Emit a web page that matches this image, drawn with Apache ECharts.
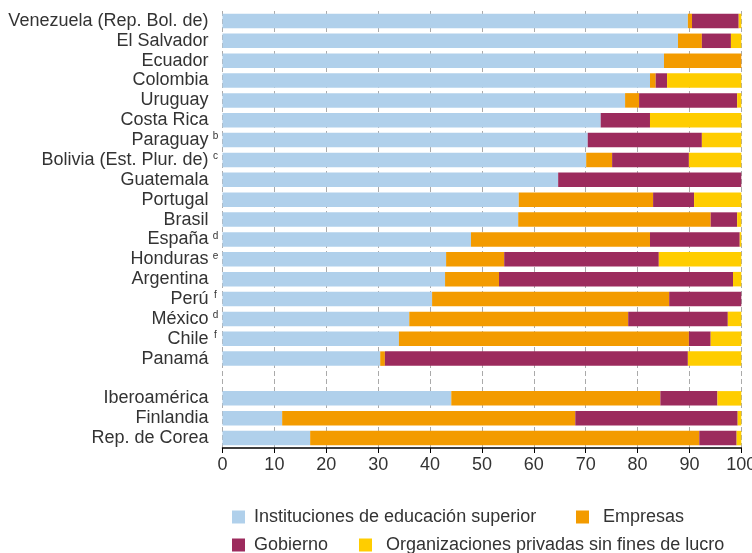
<!DOCTYPE html>
<html>
<head>
<meta charset="utf-8">
<script src="https://cdn.jsdelivr.net/npm/echarts@6/dist/echarts.min.js"></script>
<style>html,body{margin:0;padding:0;background:#fff}#c{width:752px;height:553px}</style>
</head>
<body>
<div id="c"></div>
<script>
var categories = ['Venezuela (Rep. Bol. de)','El Salvador','Ecuador','Colombia','Uruguay','Costa Rica','Paraguay','Bolivia (Est. Plur. de)','Guatemala','Portugal','Brasil','España','Honduras','Argentina','Perú','México','Chile','Panamá','','Iberoamérica','Finlandia','Rep. de Corea'];
var footnotes = ['','','','','','','b','c','','','','d','e','','f','d','f','','','','',''];
var seriesNames = ['Instituciones de educación superior','Empresas','Gobierno','Organizaciones privadas sin fines de lucro'];
var educacion = [89.7,87.8,85.1,82.4,77.6,72.9,70.4,70.1,64.7,57.1,57.0,47.9,43.1,42.9,40.4,36.0,34.0,30.4,null,44.1,11.5,16.9];
var empresas  = [0.8,4.6,14.9,1.1,2.7,0,0,5.0,0,25.9,37.1,34.5,11.2,10.4,45.7,42.2,55.9,0.9,null,40.3,56.5,75.0];
var gobierno  = [9.0,5.6,0,2.2,18.9,9.5,22.0,14.8,35.3,7.9,5.1,17.3,29.8,45.1,13.9,19.2,4.2,58.4,null,11.0,31.3,7.2];
var privadas  = [0.5,2.0,0,14.3,0.8,17.6,7.6,10.1,0,9.1,0.8,0.3,15.9,1.6,0,2.6,5.9,10.3,null,4.6,0.7,0.9];
var xTicks = [0,10,20,30,40,50,60,70,80,90,100];
var colors = ['#b0d0eb','#f39b00','#9c2b5d','#ffcd00'];

var FONT = 'Liberation Sans';
var FS = 18;
var TXT = '#333';
var chart = echarts.init(document.getElementById('c'), null, {renderer:'canvas'});
var values = [educacion, empresas, gobierno, privadas];
var series = seriesNames.map(function(n,i){
  return {name:n,type:'bar',stack:'t',barWidth:14.5,data:values[i],
    itemStyle:{color:colors[i]},emphasis:{disabled:true},silent:true};
});
var legendPos = [[232,508,9],[576,508,14],[232,536,9],[359,536,14]];
var legends = seriesNames.map(function(n,i){
  return {data:[n],left:legendPos[i][0],top:legendPos[i][1],padding:0,
    itemWidth:13,itemHeight:13,icon:'rect',selectedMode:false,
    textStyle:{fontFamily:FONT,fontSize:FS,color:TXT,lineHeight:13,padding:[0,0,0,legendPos[i][2]-5]}};
});
chart.setOption({
  animation:false,
  color:colors,
  legend:legends,
  grid:{left:222.5,right:10.7,top:11,bottom:105,containLabel:false,outerBoundsMode:'none'},
  xAxis:{type:'value',min:0,max:100,interval:10,
    axisLine:{show:true,lineStyle:{color:'#000',width:1.5}},
    axisTick:{show:true,length:5,lineStyle:{color:'#000',width:1}},
    axisLabel:{fontFamily:FONT,fontSize:FS,color:TXT,margin:8,hideOverlap:false,
      formatter:function(v){return xTicks.indexOf(v)>=0?String(v):'';}},
    splitLine:{show:true,lineStyle:{color:'#aaa',type:[5,3],width:1}}
  },
  yAxis:{type:'category',data:categories,inverse:true,
    axisLine:{show:false},axisTick:{show:false},
    axisLabel:{margin:3,interval:0,
      formatter:function(v,idx){var f=footnotes[idx]||' ';return '{m|'+v+'}{s|'+f+'}';},
      rich:{m:{fontFamily:FONT,fontSize:FS,color:TXT},
            s:{fontFamily:FONT,fontSize:10,color:TXT,width:8,align:'left',padding:[0,0,7,3]}}}
  },
  series:series
});
</script>
</body>
</html>
